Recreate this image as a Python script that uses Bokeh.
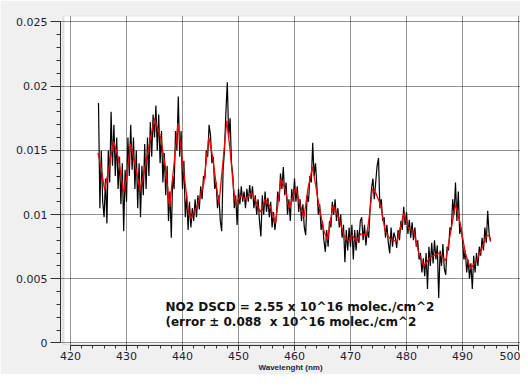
import numpy as np
from bokeh.plotting import figure
from bokeh.models import Range1d, FixedTicker, BoxAnnotation, Label
from bokeh.embed import file_html
from bokeh.resources import INLINE

# ---- data ----
wl_start = 425.0
wl_step = 0.25
measured = [
    0.0187, 0.0105, 0.0150, 0.0110,
    0.0098, 0.0128, 0.0093, 0.0150,
    0.0125, 0.0180, 0.0138, 0.0170,
    0.0130, 0.0160, 0.0120, 0.0145,
    0.0108, 0.0140, 0.0087, 0.0135,
    0.0110, 0.0160, 0.0130, 0.0170,
    0.0135, 0.0160, 0.0120, 0.0150,
    0.0105, 0.0140, 0.0098, 0.0138,
    0.0115, 0.0155, 0.0120, 0.0160,
    0.0130, 0.0172, 0.0145, 0.0178,
    0.0160, 0.0185, 0.0150, 0.0178,
    0.0140, 0.0165, 0.0125, 0.0148,
    0.0115, 0.0138, 0.0095, 0.0118,
    0.0082, 0.0130, 0.0120, 0.0165,
    0.0150, 0.0192, 0.0145, 0.0165,
    0.0120, 0.0142, 0.0098, 0.0115,
    0.0088, 0.0110, 0.0090, 0.0105,
    0.0095, 0.0112, 0.0098, 0.0115,
    0.0104, 0.0122, 0.0112, 0.0130,
    0.0128, 0.0150, 0.0145, 0.0170,
    0.0162, 0.0140, 0.0145, 0.0120,
    0.0125, 0.0105, 0.0115, 0.0095,
    0.0087, 0.0135, 0.0150, 0.0180,
    0.0203, 0.0160, 0.0175, 0.0140,
    0.0130, 0.0105, 0.0115, 0.0092,
    0.0120, 0.0108, 0.0122, 0.0110,
    0.0118, 0.0105, 0.0120, 0.0110,
    0.0123, 0.0112, 0.0122, 0.0105,
    0.0115, 0.0100, 0.0112, 0.0095,
    0.0083, 0.0115, 0.0100, 0.0118,
    0.0102, 0.0113, 0.0098, 0.0110,
    0.0090, 0.0102, 0.0088, 0.0098,
    0.0118, 0.0110, 0.0132, 0.0120,
    0.0137, 0.0115, 0.0125, 0.0100,
    0.0112, 0.0095, 0.0120, 0.0110,
    0.0128, 0.0110, 0.0122, 0.0102,
    0.0112, 0.0095, 0.0108, 0.0090,
    0.0084, 0.0115, 0.0110, 0.0130,
    0.0125, 0.0156, 0.0130, 0.0140,
    0.0122, 0.0100, 0.0108, 0.0088,
    0.0095, 0.0080, 0.0071, 0.0088,
    0.0075, 0.0095, 0.0090, 0.0110,
    0.0100, 0.0112, 0.0095, 0.0105,
    0.0090, 0.0100, 0.0082, 0.0092,
    0.0063, 0.0088, 0.0072, 0.0090,
    0.0075, 0.0092, 0.0065, 0.0088,
    0.0072, 0.0088, 0.0078, 0.0095,
    0.0098, 0.0080, 0.0092, 0.0076,
    0.0088, 0.0082, 0.0105, 0.0120,
    0.0128, 0.0112, 0.0125, 0.0138,
    0.0144, 0.0105, 0.0112, 0.0095,
    0.0098, 0.0082, 0.0092, 0.0078,
    0.0070, 0.0090, 0.0075, 0.0086,
    0.0082, 0.0074, 0.0088, 0.0080,
    0.0095, 0.0088, 0.0106, 0.0092,
    0.0102, 0.0085, 0.0096, 0.0082,
    0.0094, 0.0080, 0.0090, 0.0075,
    0.0080, 0.0065, 0.0070, 0.0055,
    0.0066, 0.0052, 0.0070, 0.0042,
    0.0075, 0.0060, 0.0078, 0.0062,
    0.0080, 0.0065, 0.0076, 0.0035,
    0.0072, 0.0060, 0.0077, 0.0058,
    0.0053, 0.0075, 0.0072, 0.0090,
    0.0088, 0.0112, 0.0100, 0.0125,
    0.0095, 0.0118, 0.0085, 0.0090,
    0.0080, 0.0065, 0.0072, 0.0055,
    0.0065, 0.0050, 0.0062, 0.0042,
    0.0068, 0.0055, 0.0070, 0.0060,
    0.0075, 0.0068, 0.0082, 0.0072,
    0.0090, 0.0078, 0.0103, 0.0085,
    0.0080,
]
measured_wl = wl_start + wl_step * np.arange(len(measured))

fit_wl = [424.9, 425.4, 426.1, 426.8, 427.7, 428.5, 429.5, 430.0, 430.7, 431.5,
          432.4, 433.0, 433.7, 434.3, 435.0, 435.5, 436.1, 437.0, 437.7, 438.5,
          439.2, 440.2, 441.1, 441.5, 442.3, 442.6, 443.8, 444.7, 445.3, 446.5,
          447.2, 447.9, 448.5, 449.1, 449.5, 450.4, 451.2, 452.4, 453.3, 453.9,
          454.8, 455.7, 456.6, 457.6, 458.4, 459.0, 459.5, 460.2, 461.0, 461.7,
          462.4, 463.2, 463.7, 464.1, 465.2, 465.9, 466.4, 466.9, 467.9, 468.8,
          469.7, 470.3, 471.1, 471.8, 472.9, 473.4, 473.9, 474.5, 475.4, 476.2,
          477.1, 478.3, 478.9, 479.5, 480.4, 481.3, 482.2, 483.1, 484.3, 485.8,
          487.0, 487.9, 488.75, 489.6, 490.5, 491.4, 492.5, 493.5, 494.3, 494.8,
          495.0]
fit_val = [0.0148, 0.0138, 0.0119, 0.0135, 0.0157, 0.0145, 0.0117, 0.0128, 0.0155, 0.0140,
           0.0119, 0.0130, 0.0146, 0.0160, 0.0175, 0.0168, 0.0160, 0.0135, 0.0106, 0.0140,
           0.0171, 0.0134, 0.0101, 0.0097, 0.0104, 0.0106, 0.0124, 0.0160, 0.0147, 0.0108,
           0.0140, 0.0173, 0.0150, 0.0121, 0.0108, 0.0115, 0.0112, 0.0117, 0.0108, 0.0102,
           0.0112, 0.0106, 0.0093, 0.0128, 0.0119, 0.0105, 0.0111, 0.0121, 0.0108, 0.0098,
           0.0120, 0.0137, 0.0125, 0.0114, 0.0088, 0.0080, 0.0095, 0.0107, 0.0098, 0.0084,
           0.0079, 0.0084, 0.0079, 0.0085, 0.0084, 0.0100, 0.0120, 0.0117, 0.0107, 0.0087,
           0.0081, 0.0079, 0.0090, 0.0101, 0.0089, 0.0087, 0.0070, 0.0060, 0.0067, 0.0070,
           0.0064, 0.0087, 0.0108, 0.0093, 0.0070, 0.0058, 0.0064, 0.0074, 0.0084, 0.0083,
           0.0079]

x_ticks = [420, 430, 440, 450, 460, 470, 480, 490, 500]
y_ticks = [0.0, 0.005, 0.01, 0.015, 0.02, 0.025]
y_tick_labels = ["0", "0.005", "0.01", "0.015", "0.02", "0.025"]
x_title = "Wavelenght (nm)"
note_line1 = "NO2 DSCD = 2.55 x 10^16 molec./cm^2"
note_line2 = "(error \u00b1 0.088 \u00a0x 10^16 molec./cm^2"

# ---- figure ----
p = figure(width=520, height=374, output_backend="svg", toolbar_location=None,
           x_range=Range1d(418.214, 500.357), y_range=Range1d(-0.000195, 0.025506),
           min_border_left=60, min_border_right=0, min_border_top=15, min_border_bottom=29)
p.background_fill_color = "#f0f0f0"
p.border_fill_color = "#f0f0f0"
p.outline_line_color = None

# white plotting area with gray border
p.add_layout(BoxAnnotation(left=418.75, bottom=-0.00012, fill_color="white",
                           fill_alpha=1.0, line_color="#a8a8a8", line_width=2, level="image"))

# grids
for g in (p.xgrid, p.ygrid):
    g.grid_line_color = "black"
    g.grid_line_dash = "1 1"
    g.grid_line_width = 1
    g.grid_line_alpha = 0.85
p.xgrid.ticker = FixedTicker(ticks=x_ticks)
p.ygrid.ticker = FixedTicker(ticks=y_ticks)

# axes
xa = p.xaxis[0]
xa.ticker = FixedTicker(ticks=x_ticks, minor_ticks=list(np.arange(420, 501, 2)))
xa.bounds = (420, 500)
xa.major_tick_out = 5
xa.major_tick_in = 0
xa.minor_tick_out = 3
xa.minor_tick_in = 0
xa.major_label_standoff = 1
xa.axis_label = x_title
xa.axis_label_standoff = 0
xa.axis_label_text_font = "Liberation Sans"
xa.axis_label_text_font_style = "bold"
xa.axis_label_text_font_size = "8px"
xa.axis_label_text_color = "#1e1e34"
ya = p.yaxis[0]
ya.ticker = FixedTicker(ticks=y_ticks, minor_ticks=[i * 0.001 for i in range(26)])
ya.bounds = (0, 0.025)
ya.major_label_overrides = {t: s for t, s in zip(y_ticks, y_tick_labels)}
ya.major_tick_out = 10
ya.major_tick_in = 0
ya.minor_tick_out = 4
ya.minor_tick_in = 0
ya.major_label_standoff = 3
for a in (xa, ya):
    a.axis_line_color = "#303030"
    a.major_tick_line_color = "#303030"
    a.minor_tick_line_color = "#303030"
    a.major_label_text_font = "DejaVu Sans"
    a.major_label_text_font_size = "11px"
    a.major_label_text_color = "#1e1e34"

# data
p.line(measured_wl, measured, line_color="black", line_width=1.2)
p.line(fit_wl, fit_val, line_color="#ff0000", line_width=1.3)

# texts
for txt, yv in ((note_line1, 0.00283), (note_line2, 0.0016)):
    p.add_layout(Label(x=436.96, y=yv, text=txt, text_font="DejaVu Sans",
                       text_font_style="bold", text_font_size="12px", text_baseline="middle",
                       text_color="#111111"))

open("out.html", "w").write(file_html(p, INLINE))
